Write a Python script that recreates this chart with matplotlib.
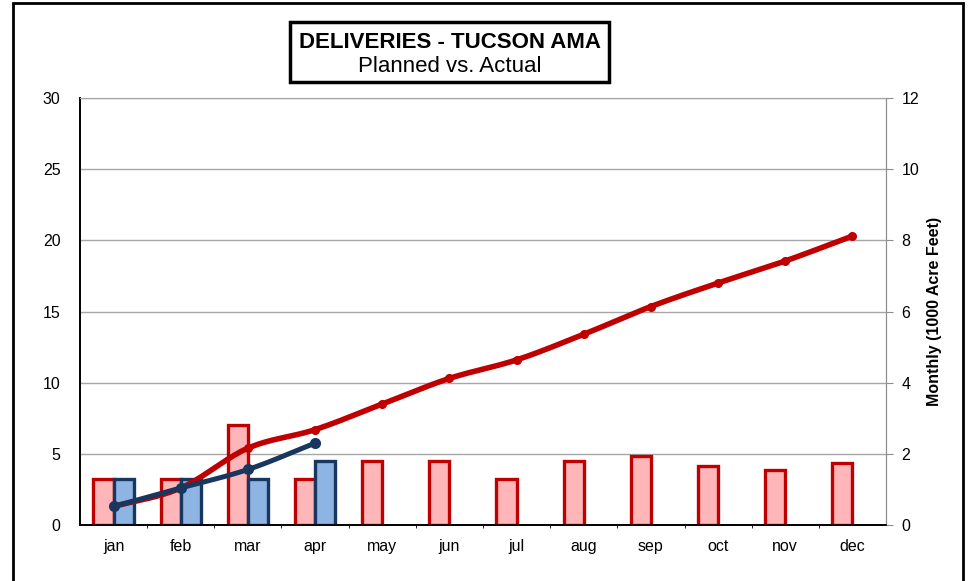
import numpy as np
import matplotlib.pyplot as plt
from matplotlib.patches import Rectangle

plt.rcParams['font.family'] = ['Liberation Sans', 'DejaVu Sans']

months = ['jan', 'feb', 'mar', 'apr', 'may', 'jun', 'jul', 'aug', 'sep', 'oct', 'nov', 'dec']
planned_monthly = [1.3, 1.3, 2.8, 1.3, 1.8, 1.8, 1.3, 1.8, 1.95, 1.65, 1.55, 1.75]
actual_monthly = [1.3, 1.3, 1.3, 1.8]
planned_cum = [1.3, 2.6, 5.4, 6.7, 8.5, 10.3, 11.6, 13.4, 15.35, 17.0, 18.55, 20.3]
actual_cum = [1.3, 2.6, 3.9, 5.75]

RED = '#C00000'
RED_FILL = '#FFB6B9'
BLUE = '#17375E'
BLUE_FILL = '#8DB4E2'


def smooth(xs, ys, n=20):
    # Catmull-Rom curve, similar to Excel's smoothed line
    xs = np.asarray(xs, float)
    ys = np.asarray(ys, float)
    px = np.concatenate([[2 * xs[0] - xs[1]], xs, [2 * xs[-1] - xs[-2]]])
    py = np.concatenate([[2 * ys[0] - ys[1]], ys, [2 * ys[-1] - ys[-2]]])
    outx, outy = [], []
    t = np.linspace(0, 1, n)
    for i in range(1, len(px) - 2):
        for p, out in ((px, outx), (py, outy)):
            p0, p1, p2, p3 = p[i - 1], p[i], p[i + 1], p[i + 2]
            out.extend(0.5 * (2 * p1 + (-p0 + p2) * t
                              + (2 * p0 - 5 * p1 + 4 * p2 - p3) * t ** 2
                              + (-p0 + 3 * p1 - 3 * p2 + p3) * t ** 3))
    return outx, outy


fig = plt.figure(figsize=(9.68, 5.81), dpi=100)
ax = fig.add_axes([80 / 968, 1 - 525 / 581, 806 / 968, 427 / 581])
ax2 = ax.twinx()
ax.set_zorder(ax2.get_zorder() + 1)
ax.patch.set_visible(False)

x = np.arange(len(months))
w = 0.3

# monthly bars (right axis)
ax2.bar(x - w / 2, planned_monthly, width=w, color=RED_FILL, edgecolor=RED, linewidth=2.4, zorder=3)
ax2.bar(x[:len(actual_monthly)] + w / 2, actual_monthly, width=w, color=BLUE_FILL,
        edgecolor=BLUE, linewidth=2.4, zorder=3)
ax2.set_ylim(0, 12)
ax2.set_yticks(range(0, 13, 2))
ax2.set_axisbelow(True)
ax2.yaxis.grid(True, color='#A6A6A6', linewidth=1)
ax2.set_xticks(x[:-1] + 0.5, minor=True)
ax2.xaxis.grid(True, which='minor', color='#E6E6E6', linewidth=1)
ax2.tick_params(axis='y', length=5, color='#8C8C8C', labelsize=11.5, pad=6)
ax2.set_ylabel('Monthly (1000 Acre Feet)', fontsize=11.5, fontweight='bold', labelpad=6)

# cumulative lines (left axis)
sx, sy = smooth(x, planned_cum)
ax.plot(sx, sy, color=RED, linewidth=4, solid_capstyle='round', zorder=4)
ax.plot(x, planned_cum, 'o', color=RED, markersize=5.5, zorder=4)
bx, by = smooth(x[:len(actual_cum)], actual_cum)
ax.plot(bx, by, color=BLUE, linewidth=3.6, solid_capstyle='round', zorder=5)
ax.plot(x[:len(actual_cum)], actual_cum, 'o', color=BLUE, markersize=7, zorder=5)

ax.set_xlim(-0.5, 11.5)
ax.set_ylim(0, 30)
ax.set_yticks(range(0, 31, 5))
ax.set_xticks(x)
ax.set_xticklabels(months)
ax.tick_params(axis='x', length=0, labelsize=11.5, pad=10)
ax.tick_params(axis='y', length=0, labelsize=11.5, pad=14)
ax2.tick_params(axis='x', which='both', length=0)

for a in (ax, ax2):
    a.spines['top'].set_color('#A6A6A6')
    a.spines['right'].set_color('#8C8C8C')
    a.spines['left'].set_color('black')
    a.spines['bottom'].set_color('black')
    a.spines['left'].set_linewidth(1.2)
    a.spines['bottom'].set_linewidth(1.2)

# title box
fig.patches.append(Rectangle((290 / 968, 1 - 82 / 581), 319 / 968, 60 / 581,
                             transform=fig.transFigure, facecolor='white',
                             edgecolor='black', linewidth=2.5, zorder=10))
fig.text(450 / 968, 1 - 42 / 581, 'DELIVERIES - TUCSON AMA', ha='center', va='center',
         fontsize=16, fontweight='bold', zorder=11)
fig.text(450 / 968, 1 - 66 / 581, 'Planned vs. Actual', ha='center', va='center',
         fontsize=16, zorder=11)

# outer frame
fig.patches.append(Rectangle((13 / 968, -0.1), 950 / 968, 1.1 - 3 / 581,
                             transform=fig.transFigure, fill=False,
                             edgecolor='black', linewidth=2, zorder=12))

fig.savefig('out.png', dpi=100)
